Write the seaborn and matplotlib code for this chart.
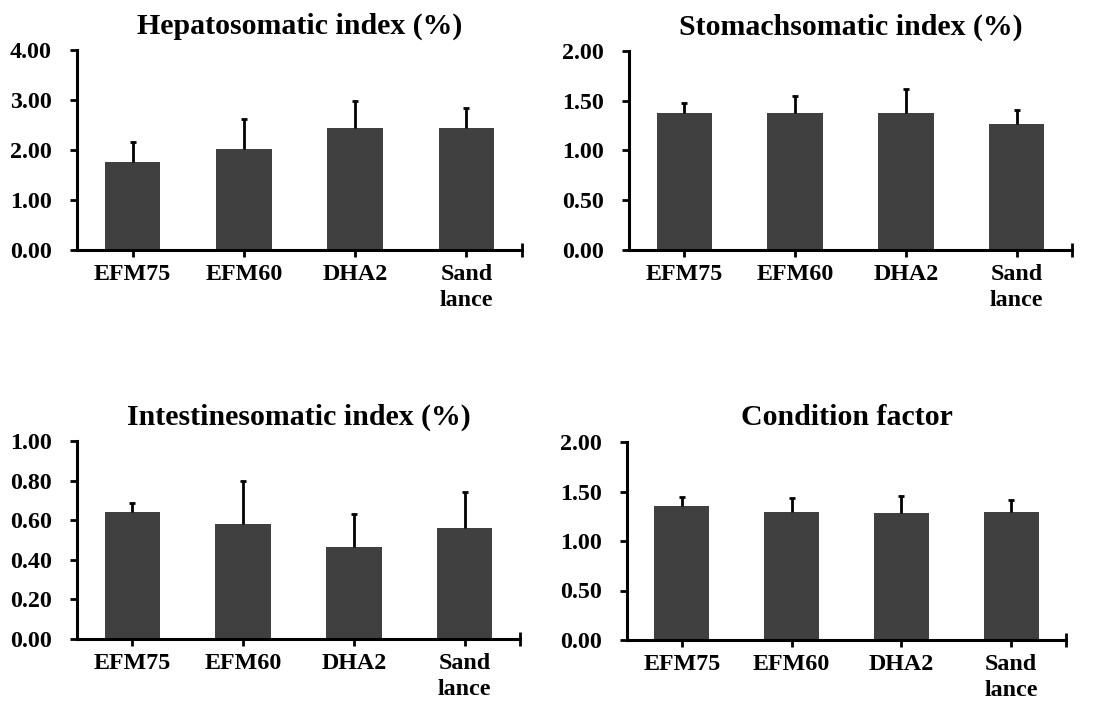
import matplotlib
matplotlib.use("Agg")
import matplotlib.pyplot as plt
import seaborn as sns
import pandas as pd
import numpy as np

sns.set_theme(style="white")
plt.rcParams['font.family'] = ['Liberation Serif', 'DejaVu Serif']
plt.rcParams['font.weight'] = 'bold'

categories = ["EFM75", "EFM60", "DHA2", "Sand\nlance"]

titles = ["Hepatosomatic index (%)", "Stomachsomatic index (%)",
          "Intestinesomatic index (%)", "Condition factor"]

hsi_mean = [1.76, 2.01, 2.43, 2.43]
hsi_sd = [0.40, 0.60, 0.55, 0.40]
ssi_mean = [1.38, 1.38, 1.38, 1.27]
ssi_sd = [0.10, 0.165, 0.235, 0.135]
isi_mean = [0.643, 0.579, 0.465, 0.562]
isi_sd = [0.045, 0.221, 0.164, 0.181]
cf_mean = [1.351, 1.294, 1.28, 1.294]
cf_sd = [0.094, 0.141, 0.17, 0.116]

means = [hsi_mean, ssi_mean, isi_mean, cf_mean]
sds = [hsi_sd, ssi_sd, isi_sd, cf_sd]
ymax = [4.0, 2.0, 1.0, 2.0]
ystep = [1.0, 0.5, 0.2, 0.5]

W, H = 1094, 706
fig = plt.figure(figsize=(W / 100, H / 100), dpi=100)

# axes boxes in pixels: left, right, top, bottom
boxes = [(77, 522, 50, 250), (629, 1072, 51, 250),
         (77, 520, 441, 639), (627, 1066, 442, 640)]

bar_color = "#404040"

for i in range(4):
    l, r, t, b = boxes[i]
    ax = fig.add_axes([l / W, 1 - b / H, (r - l) / W, (b - t) / H])
    df = pd.DataFrame({"cat": categories, "val": means[i]})
    sns.barplot(data=df, x="cat", y="val", color=bar_color, saturation=1,
                width=0.5, ax=ax, errorbar=None, edgecolor="none")
    _, caps, _ = ax.errorbar(np.arange(4), means[i], yerr=[np.zeros(4), sds[i]],
                             fmt="none", ecolor="black", elinewidth=2,
                             capsize=2.5, capthick=2)
    caps[0].set_visible(False)  # hide lower caps, keep upper only
    ax.set_xlim(-0.5, 3.5)
    ax.set_ylim(0, ymax[i])
    ticks = np.arange(0, ymax[i] + 1e-9, ystep[i])
    ax.set_yticks(ticks)
    ax.set_yticklabels([f"{v:.2f}" for v in ticks])
    ax.set_xlabel("")
    ax.set_ylabel("")
    for s in ["top", "right"]:
        ax.spines[s].set_visible(False)
    for s in ["left", "bottom"]:
        ax.spines[s].set_color("black")
        ax.spines[s].set_linewidth(2.2)
    ax.set_xticks([3.5], minor=True)
    ax.tick_params(axis="y", which="major", direction="out", length=5,
                   width=2, color="black", pad=13, labelsize=17.3,
                   left=True)
    ax.tick_params(axis="x", which="both", direction="inout", length=10,
                   width=2, color="black", pad=5, labelsize=17.3,
                   bottom=True)
    for lab in ax.get_xticklabels() + ax.get_yticklabels():
        lab.set_fontweight("bold")
        lab.set_color("black")
        lab.set_linespacing(1.3)
    ax.set_title(titles[i], fontsize=21.5, fontweight="bold", color="black",
                 pad=12)

fig.savefig("out.png", dpi=100)
